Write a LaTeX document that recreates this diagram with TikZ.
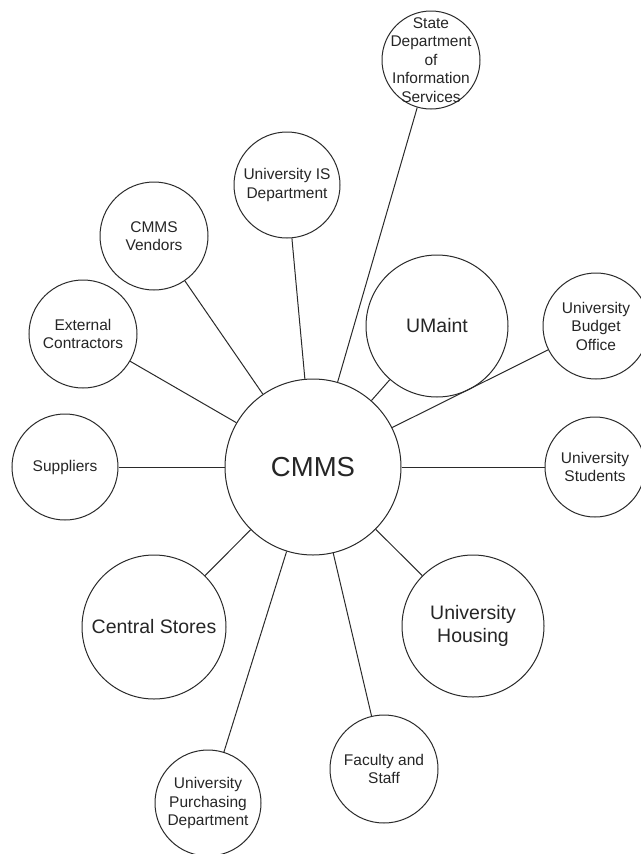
\documentclass[tikz,border=0pt]{standalone}
\usepackage{fontspec}
\setmainfont{Liberation Sans}
\definecolor{linec}{HTML}{2A2A2A}
\definecolor{txtc}{HTML}{262626}
\tikzset{
  disc/.style={circle, draw=linec, line width=1pt, fill=white, inner sep=0pt, minimum size=#1},
  smalltxt/.style={font=\fontsize{15.5}{18.5}\selectfont, align=center, text=txtc, inner sep=0pt},
  bigtxt/.style={font=\fontsize{19.5}{22.5}\selectfont, align=center, text=txtc, inner sep=0pt},
  hubtxt/.style={font=\fontsize{27.5}{30}\selectfont, text=txtc, inner sep=0pt},
  link/.style={draw=linec, line width=1pt},
}
\begin{document}
\begin{tikzpicture}[x=1pt, y=-1pt]
\useasboundingbox (0,0) rectangle (640,854);

% central hub
\node[disc=176] (cmms) at (313,467) {};

% surrounding stakeholders
\node[disc=98]  (state)    at (431,60)  {};
\node[disc=106] (isdept)   at (287,185) {};
\node[disc=108] (vendors)  at (154,236) {};
\node[disc=108] (external) at (83,334)  {};
\node[disc=106] (suppliers) at (65,467) {};
\node[disc=144] (central)  at (154,627) {};
\node[disc=106] (purchase) at (208,803) {};
\node[disc=108] (faculty)  at (384,769) {};
\node[disc=142] (housing)  at (473,626) {};
\node[disc=100] (students) at (595,467) {};
\node[disc=106] (budget)   at (596,326) {};
\node[disc=142] (umaint)   at (437,326) {};

% connectors from the hub
\foreach \n in {state,isdept,vendors,external,suppliers,central,purchase,faculty,housing,students,budget,umaint}
  \draw[link] (cmms) -- (\n);

% labels
\node[hubtxt]   (cmms-t)     at (cmms)     {CMMS};
\node[smalltxt] (state-t)    at (state)    {State\\Department\\of\\Information\\Services};
\node[smalltxt] (isdept-t)   at (isdept)   {University IS\\Department};
\node[smalltxt] (vendors-t)  at (vendors)  {CMMS\\Vendors};
\node[smalltxt] (external-t) at (external) {External\\Contractors};
\node[smalltxt] (suppliers-t) at (suppliers) {Suppliers};
\node[bigtxt]   (central-t)  at (central)  {Central Stores};
\node[smalltxt] (purchase-t) at (purchase) {University\\Purchasing\\Department};
\node[smalltxt] (faculty-t)  at (faculty)  {Faculty and\\Staff};
\node[bigtxt]   (housing-t)  at (housing)  {University\\Housing};
\node[smalltxt] (students-t) at (students) {University\\Students};
\node[smalltxt] (budget-t)   at (budget)   {University\\Budget\\Office};
\node[bigtxt]   (umaint-t)   at (umaint)   {UMaint};
\end{tikzpicture}
\end{document}
